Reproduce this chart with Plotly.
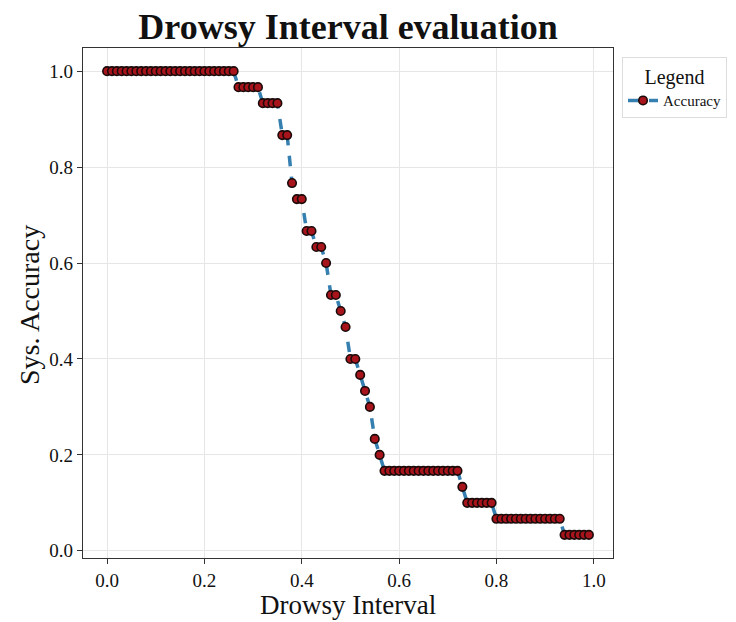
import plotly.graph_objects as go

drowsy_interval = [
    0.00, 0.01, 0.02, 0.03, 0.04, 0.05, 0.06, 0.07, 0.08, 0.09,
    0.10, 0.11, 0.12, 0.13, 0.14, 0.15, 0.16, 0.17, 0.18, 0.19,
    0.20, 0.21, 0.22, 0.23, 0.24, 0.25, 0.26, 0.27, 0.28, 0.29,
    0.30, 0.31, 0.32, 0.33, 0.34, 0.35, 0.36, 0.37, 0.38, 0.39,
    0.40, 0.41, 0.42, 0.43, 0.44, 0.45, 0.46, 0.47, 0.48, 0.49,
    0.50, 0.51, 0.52, 0.53, 0.54, 0.55, 0.56, 0.57, 0.58, 0.59,
    0.60, 0.61, 0.62, 0.63, 0.64, 0.65, 0.66, 0.67, 0.68, 0.69,
    0.70, 0.71, 0.72, 0.73, 0.74, 0.75, 0.76, 0.77, 0.78, 0.79,
    0.80, 0.81, 0.82, 0.83, 0.84, 0.85, 0.86, 0.87, 0.88, 0.89,
    0.90, 0.91, 0.92, 0.93, 0.94, 0.95, 0.96, 0.97, 0.98, 0.99,
]

accuracy = [
    1.0, 1.0, 1.0, 1.0, 1.0, 1.0, 1.0, 1.0, 1.0, 1.0,
    1.0, 1.0, 1.0, 1.0, 1.0, 1.0, 1.0, 1.0, 1.0, 1.0,
    1.0, 1.0, 1.0, 1.0, 1.0, 1.0, 1.0, 0.9667, 0.9667, 0.9667,
    0.9667, 0.9667, 0.9333, 0.9333, 0.9333, 0.9333, 0.8667, 0.8667, 0.7667, 0.7333,
    0.7333, 0.6667, 0.6667, 0.6333, 0.6333, 0.6, 0.5333, 0.5333, 0.5, 0.4667,
    0.4, 0.4, 0.3667, 0.3333, 0.3, 0.2333, 0.2, 0.1667, 0.1667, 0.1667,
    0.1667, 0.1667, 0.1667, 0.1667, 0.1667, 0.1667, 0.1667, 0.1667, 0.1667, 0.1667,
    0.1667, 0.1667, 0.1667, 0.1333, 0.1, 0.1, 0.1, 0.1, 0.1, 0.1,
    0.0667, 0.0667, 0.0667, 0.0667, 0.0667, 0.0667, 0.0667, 0.0667, 0.0667, 0.0667,
    0.0667, 0.0667, 0.0667, 0.0667, 0.0333, 0.0333, 0.0333, 0.0333, 0.0333, 0.0333,
]

x_ticks = [0.0, 0.2, 0.4, 0.6, 0.8, 1.0]
y_ticks = [0.0, 0.2, 0.4, 0.6, 0.8, 1.0]

FONT = "Liberation Serif, Times New Roman, serif"

L, R, T, B = 83, 613, 48, 558
W, H = 736, 622
PH = B - T

fig = go.Figure()
fig.add_trace(go.Scatter(
    x=drowsy_interval, y=accuracy, mode="lines+markers", name="Accuracy",
    line=dict(color="#3580b1", width=3.5, dash="dash"),
    marker=dict(size=8.5, color="#a8141b", line=dict(color="#1a0a0a", width=1.6)),
))

axis_common = dict(
    showline=True, linecolor="#333333", linewidth=1.2, mirror=True,
    ticks="outside", ticklen=5, tickcolor="#333333", tickwidth=1.2,
    showgrid=True, gridcolor="#e6e6e6", gridwidth=1, zeroline=False,
    tickfont=dict(family=FONT, size=19, color="#111111"),
    automargin=False,
)

fig.update_layout(
    width=W, height=H,
    margin=dict(l=L, r=W - R, t=T, b=H - B, autoexpand=False),
    paper_bgcolor="white", plot_bgcolor="white",
    title=dict(text="<b>Drowsy Interval evaluation</b>", x=(L + R) / 2 / W, xanchor="center",
               y=1 - 26 / H, yanchor="middle",
               font=dict(family=FONT, size=36, color="#111111")),
    xaxis=dict(range=[-0.0495, 1.0395], tickvals=x_ticks, tickformat=".1f", **axis_common),
    yaxis=dict(range=[-0.0150, 1.0483], tickvals=y_ticks, tickformat=".1f", **axis_common),
    legend=dict(
        x=1.017, y=0.982, xanchor="left", yanchor="top",
        bgcolor="white", bordercolor="#dddddd", borderwidth=1,
        title=dict(text="Legend", side="top center", font=dict(family=FONT, size=20, color="#111111")),
        font=dict(family=FONT, size=15, color="#111111"),
    ),
    showlegend=True,
    annotations=[
        dict(text="Drowsy Interval", xref="paper", yref="paper",
             x=0.5, y=(B - 605) / PH, xanchor="center", yanchor="middle", showarrow=False,
             font=dict(family=FONT, size=27, color="#111111")),
        dict(text="Sys. Accuracy", xref="paper", yref="paper", textangle=-90,
             x=(29 - L) / (R - L), y=(B - 305) / PH, xanchor="center", yanchor="middle", showarrow=False,
             font=dict(family=FONT, size=28, color="#111111")),
    ],
)

fig.write_html("out.html")
